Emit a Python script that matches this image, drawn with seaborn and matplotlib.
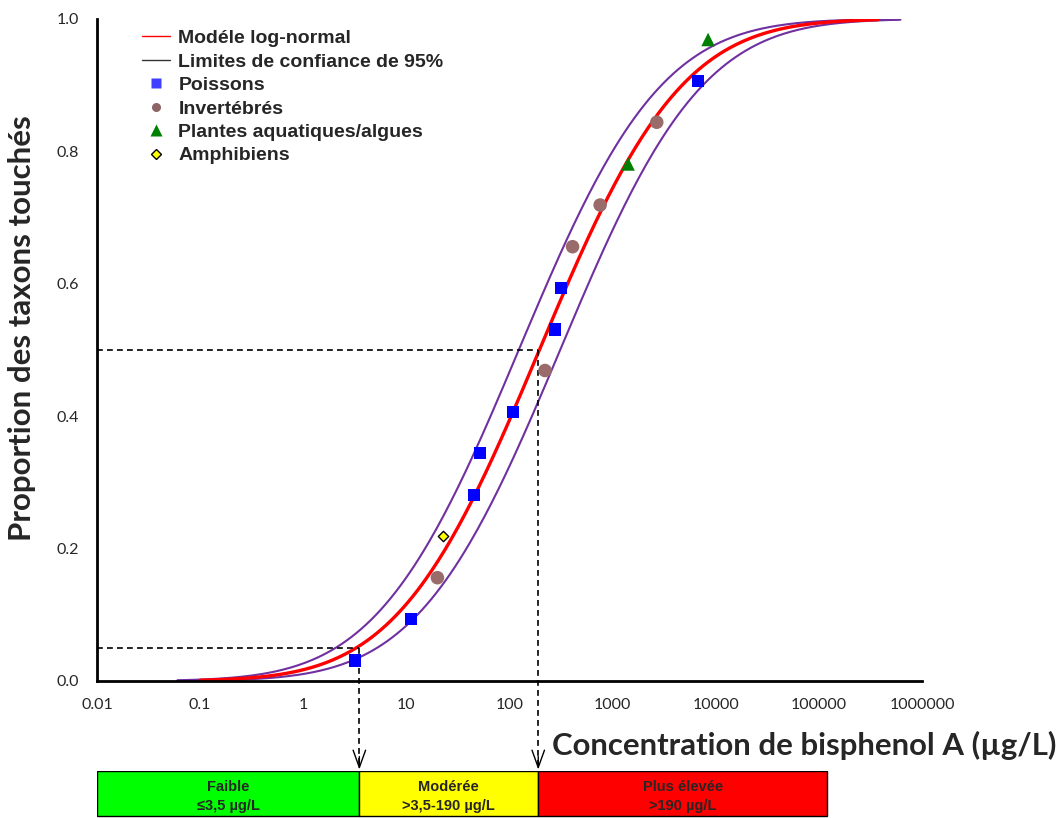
import math
import numpy as np
import matplotlib
matplotlib.use('Agg')
import matplotlib.pyplot as plt
import seaborn as sns
from matplotlib.lines import Line2D
from matplotlib.ticker import LogLocator, MultipleLocator, NullFormatter

# Species sensitivity data: concentration (µg/L) and proportion of taxa affected
poissons_conc = [3.2, 11, 45, 52, 108, 277, 317, 6750]
poissons_prop = [0.031, 0.094, 0.281, 0.344, 0.406, 0.531, 0.594, 0.906]
invert_conc = [20, 221, 409, 757, 2680]
invert_prop = [0.156, 0.469, 0.656, 0.719, 0.844]
plantes_conc = [1413, 8430]
plantes_prop = [0.781, 0.969]
amphib_conc = [22.7]
amphib_prop = [0.219]

# Fitted log-normal model and its 95% limits (median in µg/L, sigma in log10 units)
model_median, model_sigma = 195, 1.08
upper_median, lower_median = 123, 310
hc5, hc50 = 3.5, 190

x_ticks = [0.01, 0.1, 1, 10, 100, 1000, 10000, 100000, 1000000]
x_tick_labels = ['0.01', '0.1', '1', '10', '100', '1000', '10000', '100000', '1000000']
y_ticks = [0.0, 0.2, 0.4, 0.6, 0.8, 1.0]
y_tick_labels = ['0.0', '0.2', '0.4', '0.6', '0.8', '1.0']

# Hazard categories shown in the bar under the chart
cat_labels = ['Faible\n≤3,5 µg/L', 'Modérée\n>3,5-190 µg/L', 'Plus élevée\n>190 µg/L']
cat_edges = [0.01, 3.5, 190, 120000]
cat_colors = ['#00FF00', '#FFFF00', '#FF0000']


def lognormal_cdf(conc, median, sigma):
    z = (np.log10(conc) - math.log10(median)) / (sigma * math.sqrt(2))
    return 0.5 * (1 + np.vectorize(math.erf)(z))


sns.set_style('white')
plt.rcParams['font.family'] = ['Lato', 'DejaVu Sans']

fig = plt.figure(figsize=(10.59, 8.18), dpi=100)
ax = fig.add_axes([0.0916, 0.1675, 0.7790, 0.8093])

x_model = np.logspace(-1, 5.57, 300)
x_limits = np.logspace(-1.22, 5.79, 300)
purple = '#7030A0'

sns.lineplot(x=x_limits, y=lognormal_cdf(x_limits, upper_median, model_sigma), ax=ax,
             color=purple, lw=1.5, sort=False, estimator=None, legend=False)
sns.lineplot(x=x_limits, y=lognormal_cdf(x_limits, lower_median, model_sigma), ax=ax,
             color=purple, lw=1.5, sort=False, estimator=None, legend=False)
sns.lineplot(x=x_model, y=lognormal_cdf(x_model, model_median, model_sigma), ax=ax,
             color='#FF0000', lw=2.4, sort=False, estimator=None, legend=False)

sns.scatterplot(x=poissons_conc, y=poissons_prop, marker='s', s=78, color='#0000FF',
                edgecolor='none', ax=ax, zorder=4, legend=False)
sns.scatterplot(x=invert_conc, y=invert_prop, marker='o', s=95, color='#9A6B6B',
                edgecolor='none', ax=ax, zorder=4, legend=False)
sns.scatterplot(x=plantes_conc, y=plantes_prop, marker='^', s=95, color='#008000',
                edgecolor='none', ax=ax, zorder=4, legend=False)
sns.scatterplot(x=amphib_conc, y=amphib_prop, marker='D', s=28, color='#FFFF00',
                edgecolor='black', linewidth=1, ax=ax, zorder=4, legend=False)

# HC5 / HC50 guide lines with arrows down to the hazard bar
dash = dict(color='black', lw=1.2, ls=(0, (3.5, 2.5)), clip_on=False, zorder=2)
ax.plot([0.01, hc5], [0.05, 0.05], **dash)
ax.plot([hc5, hc5], [0.05, -0.13], **dash)
ax.plot([0.01, hc50], [0.5, 0.5], **dash)
ax.plot([hc50, hc50], [0.5, -0.13], **dash)
for xv in (hc5, hc50):
    ax.annotate('', xy=(xv, -0.138), xytext=(xv, -0.11), annotation_clip=False,
                arrowprops=dict(arrowstyle='->,head_length=1.25,head_width=0.45', lw=1.0, color='black'))

ax.set_xscale('log')
ax.set_xlim(0.01, 1000000)
ax.set_ylim(0, 1)
ax.set_xticks(x_ticks, x_tick_labels)
ax.xaxis.set_minor_locator(LogLocator(base=10, subs=range(2, 10), numticks=20))
ax.xaxis.set_minor_formatter(NullFormatter())
ax.set_yticks(y_ticks, y_tick_labels)
ax.yaxis.set_minor_locator(MultipleLocator(0.1))
ax.tick_params(axis='both', which='both', direction='in', color='black', width=1.3, labelsize=11.5)
ax.tick_params(axis='both', which='major', length=5)
ax.tick_params(axis='both', which='minor', length=3.5)
ax.tick_params(axis='x', pad=12)
ax.tick_params(axis='y', pad=13)
for side in ('top', 'right'):
    ax.spines[side].set_visible(False)
for side in ('left', 'bottom'):
    ax.spines[side].set_linewidth(2)
    ax.spines[side].set_color('black')

handles = [
    Line2D([], [], color='#FF0000', lw=1),
    Line2D([], [], color='#333333', lw=1),
    Line2D([], [], ls='none', marker='s', ms=6.5, color='#3F3FFF', mec='none'),
    Line2D([], [], ls='none', marker='o', ms=6.5, color='#8C6464', mec='none'),
    Line2D([], [], ls='none', marker='^', ms=9, color='#008000', mec='none'),
    Line2D([], [], ls='none', marker='D', ms=5.5, color='#FFFF00', mec='black', mew=1),
]
labels = ['Modéle log-normal', 'Limites de confiance de 95%', 'Poissons', 'Invertébrés',
          'Plantes aquatiques/algues', 'Amphibiens']
ax.legend(handles, labels, loc='upper left', bbox_to_anchor=(0.054, 0.984), frameon=False,
          handlelength=1.45, handletextpad=0.45, labelspacing=0.3, borderaxespad=0, borderpad=0,
          prop=dict(family=['Liberation Sans', 'DejaVu Sans'], weight='bold', size=14))

fig.text(22 / 1059, 1 - 328 / 818, 'Proportion des taxons touchés', rotation=90,
         ha='center', va='center', fontsize=22.5, fontweight='bold')
fig.text(1056 / 1059, 1 - 745 / 818, 'Concentration de bisphenol A (µg/L)',
         ha='right', va='center', fontsize=22.4, fontweight='bold')

# Hazard category bar, sharing the log concentration scale
bar_ax = fig.add_axes([0.0916, 0.0, 0.7790, (818 - 771) / 818])
bar_ax.set_xscale('log')
bar_ax.set_xlim(0.01, 1000000)
bar_ax.set_ylim(-0.05, 1)
lefts = cat_edges[:-1]
widths = [r - l for l, r in zip(cat_edges[:-1], cat_edges[1:])]
bar_ax.barh(y=[0, 0, 0], width=widths, left=lefts, height=1.0, align='edge',
            color=cat_colors, edgecolor='black', linewidth=1)
for l, r, text in zip(cat_edges[:-1], cat_edges[1:], cat_labels):
    bar_ax.text(math.sqrt(l * r), 0.44, text, ha='center', va='center', fontsize=10.5,
                fontweight='bold', linespacing=1.45,
                family=['Liberation Sans Narrow', 'Liberation Sans', 'DejaVu Sans'])
bar_ax.axis('off')

fig.savefig('out.png', dpi=100)
